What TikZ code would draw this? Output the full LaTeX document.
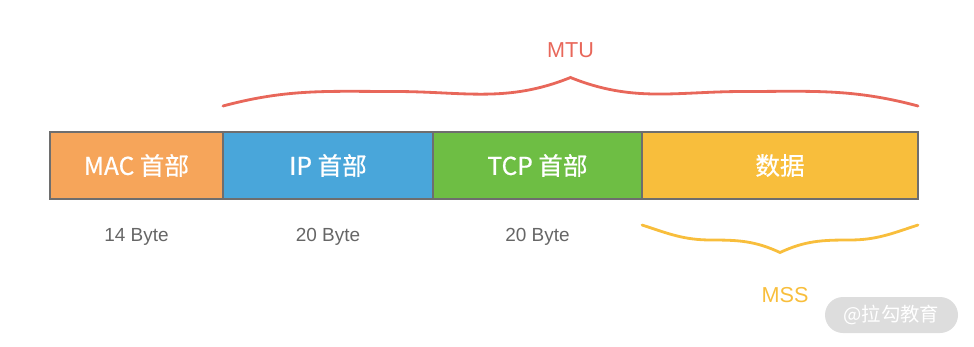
\documentclass[tikz,border=0pt]{standalone}
\usepackage{fontspec}
\setmainfont{Noto Sans CJK SC}
\newfontfamily\barfont[FakeBold=0.6]{Noto Sans CJK SC}
\newfontfamily\latinfont{Liberation Sans}
\usepackage{tikz}
\usetikzlibrary{positioning, calc}

\definecolor{macOrange}{HTML}{F6A55A}
\definecolor{ipBlue}{HTML}{49A6DA}
\definecolor{tcpGreen}{HTML}{6EBE44}
\definecolor{dataYellow}{HTML}{F8BE3C}
\definecolor{barGray}{HTML}{6E6E6E}
\definecolor{sizeGray}{HTML}{666666}
\definecolor{mtuRed}{HTML}{E8675A}
\definecolor{wmGray}{HTML}{DDDDDD}

\begin{document}
\begin{tikzpicture}[
            node distance=0cm,
            field/.style={
                    rectangle, draw=barGray, line width=1.1pt,
                    minimum height=1.34cm, inner sep=0pt, outer sep=0pt,
                    align=center, text=white,
                    font=\barfont\fontsize{14}{16}\selectfont
                },
            macf/.style={field, fill=macOrange, minimum width=3.46cm},
            ipf/.style={field, fill=ipBlue, minimum width=4.2cm},
            tcpf/.style={field, fill=tcpGreen, minimum width=4.18cm},
            dataf/.style={field, fill=dataYellow, minimum width=5.52cm},
            size/.style={text=sizeGray, font=\latinfont\fontsize{10.8}{12}\selectfont},
            brace/.style={line width=1.6pt, line cap=round},
            wmark/.style={
                    rectangle, rounded corners=0.36cm, fill=wmGray,
                    minimum width=2.66cm, minimum height=0.72cm,
                    text=white, font=\fontsize{11}{13}\selectfont
                }
        ]
        \useasboundingbox (0,0) rectangle (19.48,6.92);

        \node[macf, anchor=north west] (mac) at (1.0,4.28) {MAC 首部};
        \node[ipf, right=of mac] (ip) {IP 首部};
        \node[tcpf, right=of ip] (tcp) {TCP 首部};
        \node[dataf, right=of tcp] (data) {数据};

        \node[size, below=0.47cm of mac] (macsize) {14 Byte};
        \node[size, below=0.47cm of ip] (ipsize) {20 Byte};
        \node[size, below=0.47cm of tcp] (tcpsize) {20 Byte};

        % MTU brace over IP + TCP + data
        \coordinate (mtuL) at ($(ip.north west)+(0,0.52)$);
        \coordinate (mtuR) at ($(data.north east)+(0,0.52)$);
        \coordinate (mtuT) at ($(mtuL)!0.5!(mtuR)+(0,0.57)$);
        \draw[brace, mtuRed] (mtuL) to[out=15,in=180] ++(3.44,0.29)
            to[out=0,in=202] (mtuT) to[out=-22,in=180] ++(3.46,-0.28)
            to[out=0,in=165] (mtuR);
        \node[text=mtuRed, font=\latinfont\fontsize{12.3}{14}\selectfont, above=0.27cm of mtuT] (mtu) {MTU};

        % MSS brace under data
        \coordinate (mssL) at ($(data.south west)+(0,-0.52)$);
        \coordinate (mssR) at ($(data.south east)+(0,-0.52)$);
        \coordinate (mssT) at ($(mssL)!0.5!(mssR)+(0,-0.55)$);
        \draw[brace, dataYellow] (mssL) to[out=-18,in=180] ++(1.38,-0.3)
            to[out=0,in=155] (mssT) to[out=25,in=180] ++(1.39,0.25)
            to[out=0,in=198] (mssR);
        \node[text=dataYellow, font=\latinfont\fontsize{12.3}{14}\selectfont, below=0.58cm of mssT, xshift=0.1cm] (mss) {MSS};

        \node[wmark] (wm) at (17.83,0.62) {@拉勾教育};
    \end{tikzpicture}
\end{document}
